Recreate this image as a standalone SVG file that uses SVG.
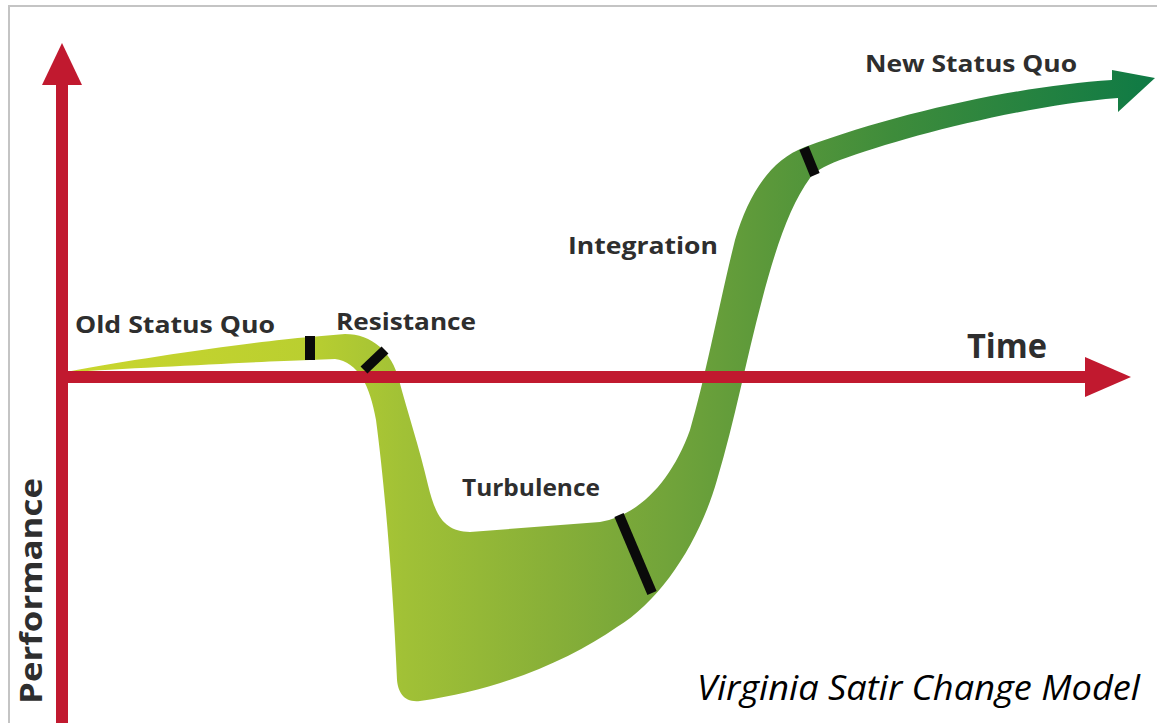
<svg xmlns="http://www.w3.org/2000/svg" width="1157" height="723" viewBox="0 0 1157 723">
  <defs>
    <linearGradient id="bandGrad" gradientUnits="userSpaceOnUse" x1="66" y1="0" x2="1155" y2="0">
      <stop offset="0" stop-color="#CAD62D"/>
      <stop offset="0.22" stop-color="#BACF30"/>
      <stop offset="0.31" stop-color="#A1C136"/>
      <stop offset="0.45" stop-color="#87AF38"/>
      <stop offset="0.55" stop-color="#72A43A"/>
      <stop offset="0.64" stop-color="#5C993A"/>
      <stop offset="0.76" stop-color="#3E8C3B"/>
      <stop offset="1" stop-color="#0F7A45"/>
    </linearGradient>
    <style>
      .axis { fill: #C1192F; }
      .mark { stroke: #0a0a0a; stroke-width: 10; stroke-linecap: butt; fill: none; }
      .lbl { font-family: "Open Sans", "Liberation Sans", sans-serif; font-weight: bold; fill: #2e2e2e; }
      .title { font-family: "Open Sans", "Liberation Sans", sans-serif; font-style: italic; fill: #000; }
    </style>
  </defs>

  <rect x="0" y="0" width="1157" height="723" fill="#ffffff"/>
  <rect id="frame" x="9" y="6" width="1160" height="730" fill="none" stroke="#c4c4c4" stroke-width="2"/>

  <g id="curve">
    <path fill="url(#bandGrad)" d="M 66,372
      C 140,358 250,342 310,337
      L 345,334
      C 372,334 392,352 399,380
      C 407,410 420,450 428,485
      C 436,518 445,531 470,532
      L 600,522
      C 640,515 672,480 690,430
      C 705,380 720,300 735,240
      C 748,195 770,160 805,147
      C 900,112 1020,86 1112,80
      L 1112,70 L 1155,78 L 1118,112 L 1118,98
      C 1020,106 900,138 840,160
      C 822,167 814,172 810,178
      C 790,205 775,250 762,300
      C 746,360 735,420 717,480
      C 700,540 662,600 617,627
      C 570,660 500,690 420,701
      C 404,703 398,692 397,680
      C 393,580 384,480 376,420
      C 370,385 358,362 335,359
      L 310,360
      C 250,362 140,368 66,372 Z"/>
  </g>

  <g id="axes">
    <rect class="axis" x="56" y="80" width="12" height="643"/>
    <polygon class="axis" points="62,43 42,85 82,85"/>
    <rect class="axis" x="56" y="371" width="1034" height="12"/>
    <polygon class="axis" points="1131,377 1085,357 1085,397"/>
  </g>

  <g id="marks">
    <line class="mark" x1="310" y1="336" x2="310" y2="360"/>
    <line class="mark" x1="364" y1="370" x2="385" y2="350"/>
    <line class="mark" x1="619" y1="515" x2="652" y2="593"/>
    <line class="mark" x1="804" y1="148" x2="815" y2="175"/>
  </g>

  <g id="old-status-quo"><text class="lbl" x="75" y="333" font-size="24" textLength="200" lengthAdjust="spacingAndGlyphs">Old Status Quo</text></g>
  <g id="resistance"><text class="lbl" x="336" y="330" font-size="24" textLength="140" lengthAdjust="spacingAndGlyphs">Resistance</text></g>
  <g id="turbulence"><text class="lbl" x="462" y="496" font-size="24" textLength="138" lengthAdjust="spacingAndGlyphs">Turbulence</text></g>
  <g id="integration"><text class="lbl" x="568" y="254" font-size="24" textLength="150" lengthAdjust="spacingAndGlyphs">Integration</text></g>
  <g id="new-status-quo"><text class="lbl" x="865" y="72" font-size="24" textLength="212" lengthAdjust="spacingAndGlyphs">New Status Quo</text></g>
  <g id="time"><text class="lbl" x="967" y="358" font-size="34" textLength="80" lengthAdjust="spacingAndGlyphs">Time</text></g>
  <g id="performance"><text class="lbl" transform="translate(42,704) rotate(-90)" x="0" y="0" font-size="30" textLength="226" lengthAdjust="spacingAndGlyphs">Performance</text></g>
  <g id="caption"><text class="title" x="697" y="700" font-size="34" textLength="443" lengthAdjust="spacingAndGlyphs">Virginia Satir Change Model</text></g>
</svg>
